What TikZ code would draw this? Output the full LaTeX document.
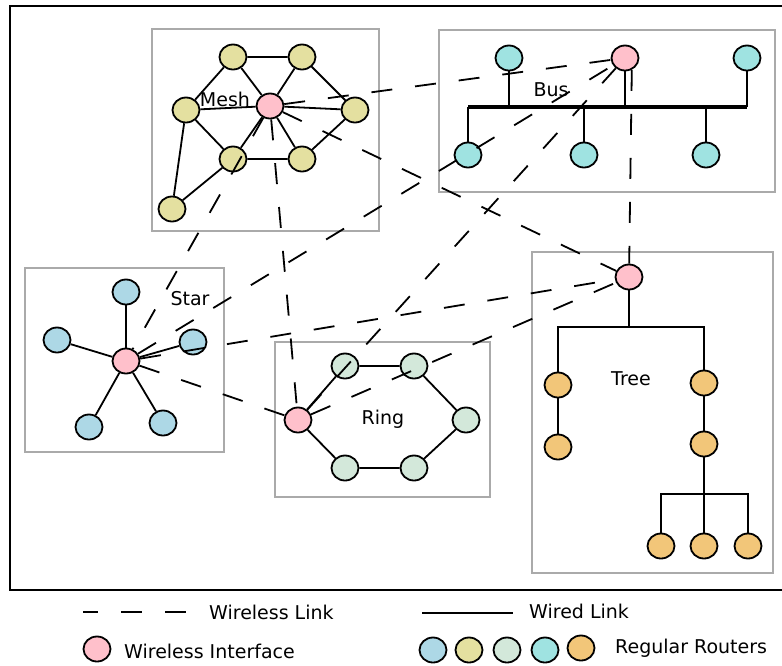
\documentclass[tikz,border=0pt]{standalone}
\usepackage{fontspec}
\setmainfont{DejaVu Sans}
\usetikzlibrary{shapes.geometric}

\definecolor{wifipink}{HTML}{FFC0CB}
\definecolor{starblue}{HTML}{ADD8E6}
\definecolor{meshyellow}{HTML}{E4E0A0}
\definecolor{ringgreen}{HTML}{D3E8DA}
\definecolor{buscyan}{HTML}{9FE3E1}
\definecolor{treeorange}{HTML}{F2C679}
\definecolor{boxgray}{HTML}{AAAAAA}

\begin{document}
\begin{tikzpicture}[x=1pt,y=-1pt,
    router/.style={draw,ellipse,line width=1.8pt,minimum width=27pt,minimum height=25pt,inner sep=0pt},
    wifi/.style={router,fill=wifipink},
    starnode/.style={router,fill=starblue},
    meshnode/.style={router,fill=meshyellow},
    ringnode/.style={router,fill=ringgreen},
    busnode/.style={router,fill=buscyan},
    treenode/.style={router,fill=treeorange},
    wired/.style={line width=1.8pt},
    busline/.style={line width=4pt},
    wireless/.style={line width=1.8pt,dash pattern=on 21pt off 23pt},
    areabox/.style={draw=boxgray,line width=2pt},
    lbl/.style={font=\fontsize{19}{22}\selectfont,inner sep=0pt}]
    \useasboundingbox (0,0) rectangle (782,665);
    \draw[line width=2pt] (10,6) rectangle (790,590);

    % areas
    \draw[areabox] (152,29) rectangle (379,231);
    \draw[areabox] (439,30) rectangle (775,192);
    \draw[areabox] (25,268) rectangle (224,452);
    \draw[areabox] (275,342) rectangle (490,497);
    \draw[areabox] (532,252) rectangle (773,573);

    % mesh
    \node[meshnode] (m1) at (233,57) {};
    \node[meshnode] (m2) at (302,57) {};
    \node[meshnode] (m3) at (186,110) {};
    \node[meshnode] (m4) at (355,110) {};
    \node[meshnode] (m5) at (233,159) {};
    \node[meshnode] (m6) at (302,159) {};
    \node[meshnode] (m7) at (172,209) {};
    \node[wifi] (M) at (270,106) {};
    \node[lbl] (meshlbl) at (225,99) {Mesh};
    \draw[wired] (m1) -- (m2) (m1) -- (m3) (m1) -- (M) (m2) -- (M) (m2) -- (m4)
        (m3) -- (M) (M) -- (m4) (m3) -- (m5) (m3) -- (m7) (M) -- (m5) (M) -- (m6)
        (m5) -- (m6) (m6) -- (m4) (m5) -- (m7);

    % bus
    \coordinate (busL) at (468,107);
    \coordinate (busR) at (747,107);
    \node[busnode] (b1) at (509,58) {};
    \node[busnode] (b3) at (747,58) {};
    \node[busnode] (b4) at (468,155) {};
    \node[busnode] (b5) at (584,155) {};
    \node[busnode] (b6) at (706,155) {};
    \node[wifi] (B) at (625,58) {};
    \node[lbl] (buslbl) at (551,90) {Bus};
    \draw[busline] (busL) -- (busR);
    \draw[wired] (b1) -- (b1|-busL) (B) -- (B|-busL) (b3) -- (b3|-busL)
        (b4) -- (b4|-busL) (b5) -- (b5|-busL) (b6) -- (b6|-busL);

    % star
    \node[wifi] (S) at (126,361) {};
    \node[starnode] (s1) at (126,292) {};
    \node[starnode] (s2) at (57,340) {};
    \node[starnode] (s3) at (193,342) {};
    \node[starnode] (s4) at (89,427) {};
    \node[starnode] (s5) at (163,423) {};
    \node[lbl] (starlbl) at (190,299) {Star};
    \foreach \n in {s1,s2,s3,s4,s5}
        \draw[wired] (S) -- (\n);

    % ring
    \node[wifi] (R) at (298,420) {};
    \node[ringnode] (r1) at (345,366) {};
    \node[ringnode] (r2) at (414,366) {};
    \node[ringnode] (r3) at (466,420) {};
    \node[ringnode] (r4) at (414,468) {};
    \node[ringnode] (r5) at (345,468) {};
    \node[lbl] (ringlbl) at (383,419) {Ring};
    \draw[wired] (R) -- (r1) -- (r2) -- (r3) -- (r4) -- (r5) -- (R);

    % tree
    \node[wifi] (T) at (629,277) {};
    \node[treenode] (t1) at (558,385) {};
    \node[treenode] (t2) at (704,383) {};
    \node[treenode] (t3) at (558,447) {};
    \node[treenode] (t4) at (704,444) {};
    \node[treenode] (t5) at (661,546) {};
    \node[treenode] (t6) at (704,546) {};
    \node[treenode] (t7) at (748,546) {};
    \node[lbl] (treelbl) at (631,379) {Tree};
    \coordinate (tj) at (629,327);
    \coordinate (tk) at (704,494);
    \draw[wired] (T) -- (tj);
    \draw[wired] (t1.north) |- (tj) -| (t2.north);
    \draw[wired] (t1) -- (t3);
    \draw[wired] (t2) -- (t4) -- (t6);
    \draw[wired] (t5.north) |- (tk) -| (t7.north);

    % wireless links
    \draw[wireless] (M) -- (B);
    \draw[wireless] (M) -- (T);
    \draw[wireless] (M) -- (R);
    \draw[wireless] (M) -- (S);
    \draw[wireless] (S) -- (B);
    \draw[wireless] (S) -- (T);
    \draw[wireless] (S) -- (R);
    \draw[wireless] (R) -- (B);
    \draw[wireless] (R) -- (T);
    \draw[wireless] (B.-60) -- (T);

    % legend
    \coordinate (wl1) at (83,612);
    \coordinate (wl2) at (190,612);
    \coordinate (wd1) at (422,613);
    \coordinate (wd2) at (513,613);
    \draw[wireless,dash phase=6pt] (wl1) -- (wl2);
    \node[lbl,anchor=west] (wllbl) at (209,612) {Wireless Link};
    \draw[wired] (wd1) -- (wd2);
    \node[lbl,anchor=west] (wdlbl) at (529,611) {Wired Link};
    \node[wifi] (lgw) at (97,649) {};
    \node[lbl,anchor=west] (lgwlbl) at (124,651) {Wireless Interface};
    \node[starnode] (lg1) at (433,650) {};
    \node[meshnode] (lg2) at (469,650) {};
    \node[ringnode] (lg3) at (507,650) {};
    \node[busnode] (lg4) at (545,650) {};
    \node[treenode] (lg5) at (581,648) {};
    \node[lbl,anchor=west] (lgrlbl) at (615,648) {Regular Routers};
\end{tikzpicture}
\end{document}
